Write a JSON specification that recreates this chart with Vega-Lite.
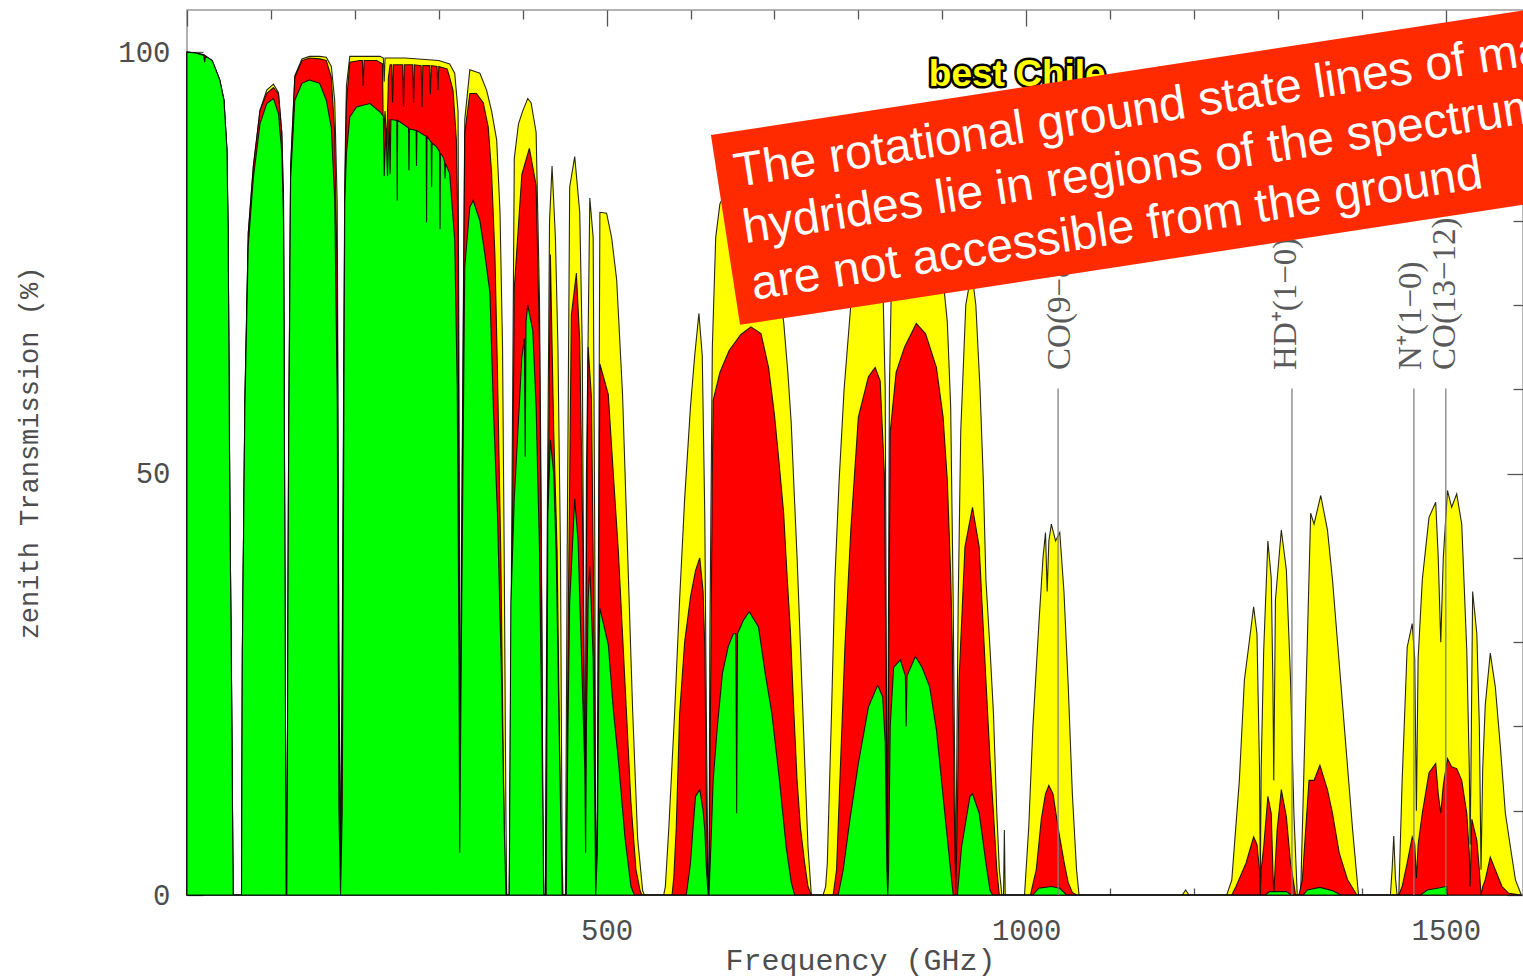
{
"$schema": "https://vega.github.io/schema/vega-lite/v6.json",
"width": 1336, "height": 885,
"autosize": {"type": "none"},
"padding": {"left": 187, "top": 10, "right": 0, "bottom": 83},
"background": "#ffffff",
"config": {"view": {"stroke": "#9a9a9a", "strokeWidth": 1.5}},
"datasets": {
"yellow": [
{"f":0,"t":100},{"f":10,"t":99.9},{"f":20,"t":99.7},{"f":30,"t":99},{"f":39,"t":96.7},{"f":44,"t":94.3},{"f":47.6,"t":88.4},{"f":49,"t":78.5},{"f":51,"t":47},{"f":53,"t":25.5},{"f":55,"t":0},{"f":65,"t":0},{"f":66,"t":29},{"f":69,"t":58.7},{"f":73,"t":78.5},{"f":79,"t":86.4},{"f":87,"t":93.1},{"f":95,"t":95.5},{"f":103,"t":96.2},{"f":109,"t":95.2},{"f":113,"t":90.4},{"f":115,"t":82.4},{"f":117,"t":30},{"f":118,"t":0},{"f":119,"t":0},{"f":121,"t":50.8},{"f":123.5,"t":86.4},{"f":128.5,"t":97.2},{"f":137,"t":99.2},{"f":146,"t":99.5},{"f":158,"t":99.5},{"f":166,"t":99.4},{"f":172,"t":98.3},{"f":176,"t":94.3},{"f":179,"t":82},{"f":181,"t":30},{"f":183,"t":3},{"f":185,"t":30},{"f":188,"t":85},{"f":190,"t":96},{"f":194,"t":99.5},{"f":230,"t":99.5},{"f":234,"t":99.3},{"f":235,"t":96.5},{"f":236,"t":99.3},{"f":260,"t":99.3},{"f":300,"t":99},{"f":313,"t":98.6},{"f":319,"t":97.5},{"f":323,"t":93},{"f":324.5,"t":50},{"f":325.5,"t":10},{"f":327,"t":40},{"f":331,"t":92},{"f":337,"t":97.9},{"f":349,"t":97.5},{"f":357,"t":95.5},{"f":363,"t":93},{"f":369,"t":89.6},{"f":373,"t":81},{"f":376,"t":65},{"f":378,"t":40},{"f":380,"t":10},{"f":381,"t":0},{"f":384,"t":0},{"f":386,"t":30},{"f":390,"t":87.4},{"f":395,"t":91.5},{"f":400,"t":93},{"f":406,"t":94.5},{"f":410,"t":94},{"f":416,"t":90.5},{"f":420,"t":71},{"f":422,"t":47},{"f":424,"t":10},{"f":425,"t":0},{"f":427,"t":0},{"f":429,"t":40},{"f":432,"t":80},{"f":435,"t":86.5},{"f":439,"t":78},{"f":442,"t":65},{"f":445,"t":41},{"f":447,"t":5},{"f":448,"t":0},{"f":451,"t":0},{"f":453,"t":40},{"f":456,"t":84},{"f":462,"t":87.6},{"f":468,"t":81},{"f":471,"t":65},{"f":473,"t":30},{"f":474.5,"t":5},{"f":476,"t":50},{"f":480,"t":82.7},{"f":484,"t":78},{"f":486,"t":40},{"f":487,"t":0},{"f":489,"t":10},{"f":492,"t":81},{"f":500,"t":80.9},{"f":506,"t":78},{"f":512,"t":73},{"f":519,"t":59.4},{"f":525,"t":40.8},{"f":531,"t":22},{"f":537,"t":6.7},{"f":543,"t":0.5},{"f":545,"t":0},{"f":568,"t":0},{"f":570,"t":1},{"f":574,"t":7.7},{"f":581,"t":21.5},{"f":587,"t":35},{"f":593,"t":47},{"f":600,"t":58},{"f":605,"t":64},{"f":610,"t":69},{"f":614,"t":64},{"f":617,"t":45},{"f":619,"t":20},{"f":621,"t":0},{"f":622,"t":0},{"f":623,"t":30},{"f":626,"t":65},{"f":630,"t":78},{"f":635,"t":82},{"f":645,"t":84},{"f":660,"t":85},{"f":680,"t":84},{"f":695,"t":78},{"f":705,"t":72},{"f":711,"t":68},{"f":716,"t":62},{"f":720,"t":56},{"f":723,"t":49},{"f":727,"t":40},{"f":731,"t":29.5},{"f":736,"t":16},{"f":740,"t":5.7},{"f":744,"t":0},{"f":758,"t":0},{"f":761,"t":1},{"f":763,"t":3.8},{"f":768,"t":21.5},{"f":772,"t":37.4},{"f":777,"t":49},{"f":783,"t":60},{"f":791,"t":70},{"f":800,"t":76},{"f":815,"t":79},{"f":828,"t":78},{"f":832,"t":60},{"f":834.5,"t":2},{"f":837,"t":60},{"f":840,"t":76},{"f":850,"t":81},{"f":870,"t":82},{"f":890,"t":79},{"f":900,"t":74},{"f":906,"t":68},{"f":910,"t":58},{"f":913,"t":35},{"f":916,"t":2},{"f":919,"t":35},{"f":922,"t":55},{"f":928,"t":70},{"f":935,"t":74},{"f":940,"t":70},{"f":945,"t":60},{"f":949,"t":49},{"f":952,"t":37.4},{"f":957,"t":29},{"f":961,"t":21.5},{"f":965,"t":9.7},{"f":968,"t":3},{"f":971,"t":0},{"f":973,"t":0},{"f":974,"t":7.7},{"f":975,"t":0},{"f":998,"t":0},{"f":1003,"t":8},{"f":1008,"t":20},{"f":1015,"t":32},{"f":1020,"t":40},{"f":1023,"t":43},{"f":1025,"t":36},{"f":1027,"t":42},{"f":1030,"t":44},{"f":1035,"t":42},{"f":1040,"t":43},{"f":1045,"t":36},{"f":1050,"t":25},{"f":1055,"t":12},{"f":1060,"t":3},{"f":1063,"t":0},{"f":1186,"t":0},{"f":1190,"t":0.6},{"f":1194,"t":0},{"f":1239,"t":0},{"f":1245,"t":1.8},{"f":1254,"t":13.6},{"f":1260,"t":25.5},{"f":1265,"t":29.4},{"f":1271,"t":34.2},{"f":1275,"t":31},{"f":1278,"t":15},{"f":1279,"t":2},{"f":1280,"t":15},{"f":1283,"t":29},{"f":1288,"t":42},{"f":1292,"t":37.6},{"f":1294,"t":25},{"f":1295,"t":13.6},{"f":1297,"t":35},{"f":1304,"t":43.3},{"f":1310,"t":38.6},{"f":1315,"t":25.5},{"f":1319,"t":9.7},{"f":1323,"t":0},{"f":1327,"t":0},{"f":1333,"t":22.5},{"f":1339,"t":45.3},{"f":1343,"t":44},{"f":1351,"t":47.4},{"f":1359,"t":43.3},{"f":1365,"t":37.4},{"f":1373,"t":27.5},{"f":1381,"t":17.6},{"f":1389,"t":7.7},{"f":1396,"t":0},{"f":1434,"t":0},{"f":1436,"t":3},{"f":1438,"t":7},{"f":1440,"t":2},{"f":1442,"t":0},{"f":1444,"t":0},{"f":1448,"t":13.6},{"f":1454,"t":29.4},{"f":1460,"t":32.2},{"f":1463,"t":28},{"f":1465,"t":10},{"f":1467,"t":28},{"f":1472,"t":37.4},{"f":1480,"t":44.8},{"f":1488,"t":46.6},{"f":1491,"t":40},{"f":1494,"t":30},{"f":1497,"t":40},{"f":1502,"t":48},{"f":1507,"t":46},{"f":1513,"t":47.6},{"f":1519,"t":44},{"f":1525,"t":29},{"f":1528,"t":15},{"f":1529,"t":6},{"f":1530,"t":15},{"f":1532,"t":36},{"f":1537,"t":31},{"f":1540,"t":20},{"f":1542,"t":3},{"f":1544,"t":15},{"f":1547,"t":22.5},{"f":1553,"t":28.7},{"f":1559,"t":24.7},{"f":1565,"t":17.6},{"f":1571,"t":9.7},{"f":1577,"t":5.7},{"f":1583,"t":1.8},{"f":1590,"t":0}
],
"red": [
{"f":0,"t":100},{"f":10,"t":99.9},{"f":20,"t":99.7},{"f":30,"t":99},{"f":39,"t":96.7},{"f":44,"t":94.3},{"f":47.6,"t":88.4},{"f":49,"t":78.5},{"f":51,"t":47},{"f":53,"t":25.5},{"f":55,"t":0},{"f":65,"t":0},{"f":66,"t":29},{"f":69,"t":58.7},{"f":73,"t":78.5},{"f":79,"t":86.4},{"f":87,"t":93.1},{"f":95,"t":95.1},{"f":103,"t":95.8},{"f":109,"t":95},{"f":113,"t":90.4},{"f":115,"t":82.4},{"f":117,"t":30},{"f":118,"t":0},{"f":119,"t":0},{"f":121,"t":50.8},{"f":123.5,"t":86.4},{"f":128.5,"t":97},{"f":137,"t":99},{"f":146,"t":99.3},{"f":158,"t":99.2},{"f":166,"t":99},{"f":172,"t":97},{"f":176,"t":90.4},{"f":179,"t":73},{"f":181,"t":25},{"f":183,"t":1},{"f":185,"t":25},{"f":188,"t":82},{"f":190,"t":94},{"f":194,"t":98.8},{"f":206,"t":99},{"f":209,"t":99},{"f":210,"t":96},{"f":211,"t":99},{"f":226,"t":99},{"f":233,"t":98.6},{"f":234,"t":90},{"f":236,"t":93},{"f":238,"t":89},{"f":240,"t":97},{"f":242,"t":98.5},{"f":244,"t":98.5},{"f":245,"t":94},{"f":246,"t":98.5},{"f":257,"t":98.5},{"f":258,"t":93.5},{"f":259,"t":98.5},{"f":269,"t":98.5},{"f":270,"t":94},{"f":271,"t":98.5},{"f":279,"t":98.4},{"f":280,"t":93.5},{"f":281,"t":98.4},{"f":289,"t":98.4},{"f":290,"t":95},{"f":291,"t":98.4},{"f":298,"t":98.3},{"f":299,"t":95.5},{"f":300,"t":98.3},{"f":310,"t":98},{"f":313,"t":97},{"f":317,"t":95.5},{"f":321,"t":89.6},{"f":323,"t":77.7},{"f":325,"t":8},{"f":327,"t":35},{"f":331,"t":90.4},{"f":337,"t":95.1},{"f":345,"t":95.1},{"f":353,"t":94},{"f":359,"t":91.1},{"f":363,"t":85.6},{"f":367,"t":75.7},{"f":370,"t":62},{"f":374,"t":40},{"f":377,"t":15},{"f":379,"t":3},{"f":381,"t":0},{"f":384,"t":0},{"f":386,"t":20},{"f":390,"t":72},{"f":399,"t":85.5},{"f":408,"t":88.6},{"f":416,"t":84.2},{"f":420,"t":65.7},{"f":423,"t":30},{"f":424,"t":10},{"f":425,"t":0},{"f":427,"t":0},{"f":429,"t":30},{"f":433,"t":76},{"f":437,"t":55},{"f":441,"t":41},{"f":445,"t":10},{"f":447,"t":0},{"f":452,"t":0},{"f":454,"t":30},{"f":458,"t":68.8},{"f":464,"t":73.8},{"f":468,"t":65.7},{"f":472,"t":40},{"f":474.5,"t":5},{"f":476,"t":40},{"f":478,"t":65},{"f":482,"t":59},{"f":486,"t":22},{"f":487,"t":0},{"f":489,"t":10},{"f":492,"t":63},{"f":502,"t":59.4},{"f":508,"t":50},{"f":514,"t":40.8},{"f":522,"t":25},{"f":529,"t":11},{"f":535,"t":3},{"f":540,"t":0.5},{"f":542,"t":0},{"f":578,"t":0},{"f":580,"t":2},{"f":583,"t":8},{"f":587,"t":21.5},{"f":593,"t":30},{"f":600,"t":35.4},{"f":606,"t":38.5},{"f":611,"t":40},{"f":615,"t":36},{"f":617,"t":29.5},{"f":619,"t":10},{"f":621,"t":0},{"f":622,"t":0},{"f":624,"t":25},{"f":626,"t":50},{"f":627,"t":58.7},{"f":635,"t":62},{"f":646,"t":64.6},{"f":660,"t":66.5},{"f":672,"t":67.4},{"f":684,"t":66.6},{"f":693,"t":62.6},{"f":700,"t":57},{"f":706,"t":50.8},{"f":711,"t":45.3},{"f":715,"t":38},{"f":719,"t":31.4},{"f":723,"t":22},{"f":727,"t":13.6},{"f":731,"t":8},{"f":736,"t":3.8},{"f":740,"t":1},{"f":744,"t":0},{"f":770,"t":0},{"f":774,"t":3},{"f":778,"t":13.6},{"f":784,"t":29.5},{"f":791,"t":43.3},{"f":800,"t":56.7},{"f":812,"t":61.5},{"f":820,"t":62.6},{"f":826,"t":61},{"f":831,"t":50},{"f":833,"t":25},{"f":834.5,"t":0},{"f":836,"t":25},{"f":838,"t":55},{"f":845,"t":62},{"f":855,"t":65},{"f":869,"t":67.8},{"f":880,"t":66.6},{"f":893,"t":62.6},{"f":901,"t":56.7},{"f":906,"t":49.2},{"f":910,"t":38},{"f":912,"t":29.5},{"f":914,"t":12},{"f":916,"t":0},{"f":918,"t":10},{"f":920,"t":25.5},{"f":927,"t":41.3},{"f":936,"t":46},{"f":944,"t":41.3},{"f":952,"t":25.5},{"f":957,"t":16},{"f":961,"t":9.7},{"f":965,"t":3},{"f":968,"t":0},{"f":1005,"t":0},{"f":1012,"t":3},{"f":1018,"t":9},{"f":1023,"t":12},{"f":1027,"t":13},{"f":1032,"t":12},{"f":1038,"t":8},{"f":1045,"t":4},{"f":1050,"t":1.5},{"f":1055,"t":0.3},{"f":1060,"t":0},{"f":1245,"t":0},{"f":1250,"t":1},{"f":1262,"t":3.8},{"f":1271,"t":6.9},{"f":1275,"t":6},{"f":1278,"t":3},{"f":1279,"t":0},{"f":1280,"t":3},{"f":1283,"t":5.7},{"f":1288,"t":11.7},{"f":1292,"t":9.7},{"f":1294,"t":3},{"f":1295,"t":0},{"f":1297,"t":4},{"f":1299,"t":7.7},{"f":1304,"t":12.5},{"f":1310,"t":9.3},{"f":1315,"t":3.8},{"f":1321,"t":0},{"f":1325,"t":0},{"f":1329,"t":1.8},{"f":1337,"t":13.6},{"f":1343,"t":13.6},{"f":1350,"t":15.4},{"f":1359,"t":12.5},{"f":1365,"t":9.7},{"f":1373,"t":5},{"f":1383,"t":1.8},{"f":1394,"t":0},{"f":1444,"t":0},{"f":1448,"t":1},{"f":1454,"t":3.8},{"f":1460,"t":6.9},{"f":1463,"t":6},{"f":1465,"t":2},{"f":1467,"t":6},{"f":1472,"t":9.7},{"f":1480,"t":14.5},{"f":1488,"t":15.6},{"f":1491,"t":12},{"f":1494,"t":9.7},{"f":1497,"t":13},{"f":1502,"t":16.2},{"f":1507,"t":15.2},{"f":1513,"t":15},{"f":1519,"t":13.6},{"f":1525,"t":9.7},{"f":1528,"t":5},{"f":1529,"t":1},{"f":1530,"t":5},{"f":1531,"t":9},{"f":1537,"t":6.5},{"f":1540,"t":3},{"f":1542,"t":0},{"f":1544,"t":1},{"f":1547,"t":1.8},{"f":1553,"t":4.5},{"f":1559,"t":3},{"f":1567,"t":1},{"f":1575,"t":0.2},{"f":1590,"t":0}
],
"green": [
{"f":0,"t":100},{"f":10,"t":99.9},{"f":20,"t":99.6},{"f":21,"t":98.8},{"f":22,"t":99.5},{"f":30,"t":99},{"f":39,"t":96.7},{"f":44,"t":94.3},{"f":47.6,"t":88.4},{"f":49,"t":78.5},{"f":51,"t":47},{"f":53,"t":25.5},{"f":55,"t":0},{"f":65,"t":0},{"f":66,"t":29},{"f":69,"t":58},{"f":73,"t":77},{"f":79,"t":85},{"f":87,"t":91.5},{"f":95,"t":93.9},{"f":103,"t":94.5},{"f":109,"t":92.7},{"f":113,"t":88},{"f":115,"t":80},{"f":117,"t":30},{"f":118,"t":0},{"f":119,"t":0},{"f":121,"t":50},{"f":123.5,"t":85},{"f":128.5,"t":94.3},{"f":137,"t":96.3},{"f":146,"t":96.7},{"f":158,"t":96.3},{"f":166,"t":94.3},{"f":172,"t":91},{"f":176,"t":82.4},{"f":179,"t":58.7},{"f":181,"t":10},{"f":183,"t":0},{"f":185,"t":10},{"f":188,"t":82},{"f":190,"t":88},{"f":194,"t":92.3},{"f":202,"t":93.5},{"f":210,"t":93.7},{"f":218,"t":93.9},{"f":230,"t":92.9},{"f":234,"t":92.4},{"f":235,"t":85.3},{"f":237,"t":91},{"f":239,"t":85.3},{"f":241,"t":92},{"f":242,"t":85.5},{"f":243,"t":92},{"f":250,"t":91.9},{"f":250.5,"t":82.4},{"f":251,"t":91.9},{"f":264,"t":91},{"f":264.5,"t":86},{"f":265,"t":90.9},{"f":273,"t":90.7},{"f":273.5,"t":86.5},{"f":274,"t":90.7},{"f":285,"t":90},{"f":285.5,"t":79.8},{"f":286,"t":90},{"f":291,"t":89.3},{"f":291.5,"t":84},{"f":292,"t":89.2},{"f":297,"t":88.8},{"f":301,"t":88.2},{"f":301.5,"t":79},{"f":302,"t":88},{"f":305,"t":87.6},{"f":307,"t":87},{"f":307.5,"t":85},{"f":308,"t":86.8},{"f":313,"t":85.6},{"f":319,"t":77.7},{"f":322,"t":60},{"f":324,"t":30},{"f":325,"t":5},{"f":327,"t":30},{"f":331,"t":74.5},{"f":337,"t":81.6},{"f":341,"t":82.4},{"f":349,"t":80},{"f":355,"t":76},{"f":361,"t":71.4},{"f":365,"t":58},{"f":370,"t":45},{"f":375,"t":25},{"f":378,"t":8},{"f":380,"t":0},{"f":384,"t":0},{"f":386,"t":34.6},{"f":390,"t":47},{"f":399,"t":63.8},{"f":402,"t":66},{"f":403,"t":52},{"f":404,"t":68},{"f":406,"t":70},{"f":412,"t":67},{"f":416,"t":58},{"f":420,"t":41},{"f":424,"t":10},{"f":425,"t":0},{"f":428,"t":0},{"f":430,"t":45},{"f":433,"t":54},{"f":437,"t":50},{"f":440,"t":40},{"f":443,"t":22},{"f":447,"t":0},{"f":452,"t":0},{"f":454,"t":20},{"f":456,"t":34.6},{"f":462,"t":47},{"f":466,"t":42},{"f":470,"t":28.5},{"f":474,"t":15},{"f":475,"t":5},{"f":476,"t":20},{"f":478,"t":35},{"f":480,"t":39},{"f":484,"t":28},{"f":486,"t":10},{"f":487,"t":0},{"f":489,"t":5},{"f":491,"t":30},{"f":492,"t":34},{"f":502,"t":29.7},{"f":508,"t":22},{"f":514,"t":16},{"f":522,"t":6.7},{"f":529,"t":1},{"f":533,"t":0},{"f":595,"t":0},{"f":600,"t":3.8},{"f":603,"t":8},{"f":606,"t":11.7},{"f":611,"t":12.5},{"f":615,"t":10},{"f":617,"t":7.7},{"f":619,"t":3},{"f":621,"t":0},{"f":622,"t":0},{"f":624,"t":5},{"f":627,"t":13.6},{"f":632,"t":20},{"f":638,"t":26.3},{"f":645,"t":29.5},{"f":651,"t":31},{"f":654,"t":31},{"f":655,"t":9.7},{"f":656,"t":31},{"f":663,"t":32.6},{"f":670,"t":33.6},{"f":681,"t":31.8},{"f":689,"t":26.3},{"f":697,"t":21.5},{"f":706,"t":13.6},{"f":714,"t":5.7},{"f":720,"t":1.5},{"f":724,"t":0},{"f":776,"t":0},{"f":782,"t":3},{"f":790,"t":9},{"f":800,"t":15.6},{"f":812,"t":22.3},{"f":823,"t":24.9},{"f":829,"t":23.5},{"f":832,"t":18},{"f":834,"t":3},{"f":835,"t":0},{"f":836,"t":3},{"f":838,"t":20},{"f":842,"t":27},{"f":850,"t":27.9},{"f":856,"t":26},{"f":857,"t":20},{"f":858,"t":26},{"f":868,"t":28.3},{"f":876,"t":27},{"f":885,"t":24.7},{"f":893,"t":19.6},{"f":901,"t":11.7},{"f":909,"t":3.8},{"f":913,"t":0},{"f":918,"t":0},{"f":923,"t":5.7},{"f":933,"t":11.7},{"f":936,"t":12},{"f":944,"t":9.7},{"f":952,"t":3.8},{"f":957,"t":0.5},{"f":960,"t":0},{"f":1008,"t":0},{"f":1015,"t":0.8},{"f":1030,"t":1},{"f":1040,"t":0.8},{"f":1048,"t":0},{"f":1285,"t":0},{"f":1290,"t":0.4},{"f":1310,"t":0.4},{"f":1316,"t":0},{"f":1330,"t":0},{"f":1335,"t":0.6},{"f":1350,"t":0.9},{"f":1365,"t":0.5},{"f":1375,"t":0},{"f":1470,"t":0},{"f":1478,"t":0.6},{"f":1490,"t":0.8},{"f":1500,"t":1},{"f":1501,"t":1},{"f":1501.5,"t":0}
],
"lines": [
{"f":1038,"lf":1040,"label":"CO(9−8)"},
{"f":1316.7,"lf":1309.5,"label":"HD⁺(1−0)"},
{"f":1462,"lf":1458,"label":"N⁺(1−0)"},
{"f":1500,"lf":1499,"label":"CO(13−12)"}
]
},
"layer": [
{"data": {"name": "yellow"},
 "mark": {"type": "area", "color": "#ffff00", "stroke": "#000000", "strokeWidth": 1.1, "strokeOpacity": 0.85},
 "encoding": {
  "x": {"field": "f", "type": "quantitative", "scale": {"domain": [0, 1592], "nice": false, "zero": false},
   "axis": {"orient": "bottom", "values": [0,100,200,300,400,500,600,700,800,900,1000,1100,1200,1300,1400,1500], "format": "d",
    "labelExpr": "datum.value % 500 === 0 && datum.value > 0 ? datum.label : ''",
    "tickSize": {"condition": {"test": "datum.value % 500 === 0", "value": -12}, "value": -7},
    "tickColor": "#555555", "tickWidth": 1.3, "domain": false, "grid": false,
    "labelFont": "Liberation Mono", "labelFontSize": 29, "labelColor": "#4d4d4d", "labelPadding": 33, "labelFlush": false, "labelOverlap": false,
    "title": "Frequency (GHz)", "titleFont": "Liberation Mono", "titleFontSize": 30, "titleFontWeight": "normal", "titleColor": "#4d4d4d",
    "titleX": 673, "titleY": 74, "titleBaseline": "alphabetic", "titleAlign": "center"}},
  "y": {"field": "t", "type": "quantitative", "stack": null, "scale": {"domain": [0, 105], "nice": false, "zero": false},
   "axis": {"orient": "left", "values": [0,10,20,30,40,50,60,70,80,90,100],
    "labelExpr": "datum.value % 50 === 0 ? datum.label : ''",
    "tickSize": {"condition": {"test": "datum.value % 50 === 0", "value": -16}, "value": -10},
    "tickColor": "#555555", "tickWidth": 1.3, "domain": false, "grid": false,
    "labelFont": "Liberation Mono", "labelFontSize": 29, "labelColor": "#4d4d4d", "labelPadding": 33, "labelFlush": false, "labelOverlap": false,
    "title": "zenith Transmission (%)", "titleFont": "Liberation Mono", "titleFontSize": 27, "titleFontWeight": "normal", "titleColor": "#4d4d4d",
    "titleX": -150, "titleY": 442.5, "titleAngle": 270, "titleBaseline": "alphabetic", "titleAlign": "center"}}
 }},
{"data": {"name": "red"},
 "mark": {"type": "area", "color": "#ff0000", "stroke": "#000000", "strokeWidth": 1.1, "strokeOpacity": 0.85},
 "encoding": {
  "x": {"field": "f", "type": "quantitative", "scale": {"domain": [0, 1592], "nice": false, "zero": false},
   "axis": {"orient": "top", "values": [0,100,200,300,400,500,600,700,800,900,1000,1100,1200,1300,1400,1500], "labels": false, "title": null, "domain": false, "grid": false,
    "tickSize": {"condition": {"test": "datum.value % 500 === 0", "value": -16}, "value": -9}, "tickColor": "#555555", "tickWidth": 1.3}},
  "y": {"field": "t", "type": "quantitative", "stack": null, "scale": {"domain": [0, 105], "nice": false, "zero": false},
   "axis": {"orient": "right", "values": [0,10,20,30,40,50,60,70,80,90,100], "labels": false, "title": null, "domain": false, "grid": false,
    "tickSize": {"condition": {"test": "datum.value % 50 === 0", "value": -16}, "value": -10}, "tickColor": "#555555", "tickWidth": 1.3}}
 }},
{"data": {"name": "green"},
 "mark": {"type": "area", "color": "#00ff00", "stroke": "#000000", "strokeWidth": 1.1, "strokeOpacity": 0.85},
 "encoding": {
  "x": {"field": "f", "type": "quantitative", "scale": {"domain": [0, 1592], "nice": false, "zero": false}, "axis": null},
  "y": {"field": "t", "type": "quantitative", "stack": null, "scale": {"domain": [0, 105], "nice": false, "zero": false}, "axis": null}
 }},
{"data": {"name": "lines"},
 "mark": {"type": "rule", "color": "#808080", "strokeWidth": 1.3},
 "encoding": {
  "x": {"field": "f", "type": "quantitative", "axis": null},
  "y": {"datum": 0, "type": "quantitative", "axis": null},
  "y2": {"datum": 60.1}
 }},
{"data": {"name": "lines"},
 "mark": {"type": "text", "angle": 270, "align": "left", "baseline": "middle", "font": "Liberation Serif", "fontSize": 33, "color": "#5a5a5a"},
 "encoding": {
  "x": {"field": "lf", "type": "quantitative", "axis": null},
  "y": {"datum": 62.3, "type": "quantitative", "axis": null},
  "text": {"field": "label"}
 }},
{"data": {"values": [{}]},
 "mark": {"type": "text", "align": "left", "baseline": "alphabetic", "font": "Liberation Sans", "fontWeight": "bold", "fontSize": 37, "color": "#000000", "stroke": "#000000", "strokeWidth": 5, "strokeJoin": "round"},
 "encoding": {
  "x": {"datum": 884, "type": "quantitative", "axis": null},
  "y": {"datum": 96.0, "type": "quantitative", "axis": null},
  "text": {"value": "best Chile"}
 }},
{"data": {"values": [{}]},
 "mark": {"type": "text", "align": "left", "baseline": "alphabetic", "font": "Liberation Sans", "fontWeight": "bold", "fontSize": 37, "color": "#ffff00"},
 "encoding": {
  "x": {"datum": 884, "type": "quantitative", "axis": null},
  "y": {"datum": 96.0, "type": "quantitative", "axis": null},
  "text": {"value": "best Chile"}
 }},
{"data": {"values": [{}]},
 "mark": {"type": "point", "shape": "M -1 -0.192 L 1 -0.192 L 1 0.192 L -1 0.192 Z", "filled": true, "color": "#ff2a00", "opacity": 1, "size": 1000000, "angle": 351.28, "strokeWidth": 0},
 "encoding": {
  "x": {"datum": 1230.6, "type": "quantitative", "axis": null},
  "y": {"datum": 87.9, "type": "quantitative", "axis": null}
 }},
{"data": {"values": [{}]},
 "mark": {"type": "text", "align": "left", "baseline": "alphabetic", "font": "Liberation Sans", "fontSize": 48, "lineHeight": 57, "angle": 351.28, "color": "#ffffff",
  "text": ["The rotational ground state lines of many", "hydrides lie in regions of the spectrum that", "are not accessible from the ground"]},
 "encoding": {
  "x": {"datum": 654.8, "type": "quantitative", "axis": null},
  "y": {"datum": 84.0, "type": "quantitative", "axis": null}
 }}
],
"resolve": {"axis": {"x": "independent", "y": "independent"}}
}
